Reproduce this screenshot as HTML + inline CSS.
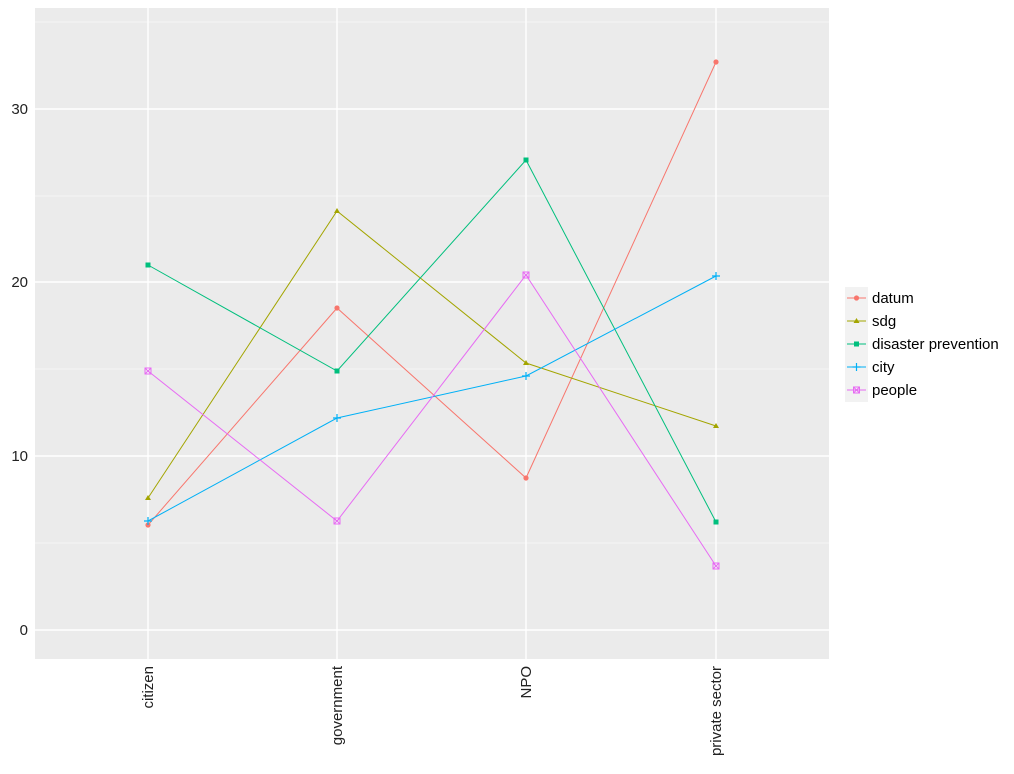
<!DOCTYPE html>
<html><head><style>body{margin:0;background:#fff}svg{display:block}text{font-family:"Liberation Sans",Arial,sans-serif;}</style></head><body>
<svg width="1014" height="774" xmlns="http://www.w3.org/2000/svg">
<rect x="35" y="8" width="794" height="651" fill="#EBEBEB"/>
<g stroke="#F7F7F7" stroke-width="0.8">
<line x1="35" x2="829" y1="543" y2="543"/><line x1="35" x2="829" y1="369" y2="369"/><line x1="35" x2="829" y1="196" y2="196"/><line x1="35" x2="829" y1="22" y2="22"/>
</g>
<g stroke="#FFFFFF" stroke-width="1.4">
<line x1="35" x2="829" y1="630" y2="630"/><line x1="35" x2="829" y1="456" y2="456"/><line x1="35" x2="829" y1="282" y2="282"/><line x1="35" x2="829" y1="109" y2="109"/>
<line x1="148" x2="148" y1="8" y2="659"/><line x1="337" x2="337" y1="8" y2="659"/><line x1="526" x2="526" y1="8" y2="659"/><line x1="716" x2="716" y1="8" y2="659"/>
</g>
<g fill="#222" font-size="15" text-anchor="end">
<text x="28" y="635">0</text><text x="28" y="461">10</text><text x="28" y="287">20</text><text x="28" y="114">30</text>
</g>
<g fill="#222" font-size="15" text-anchor="end">
<text transform="translate(153,666) rotate(-90)">citizen</text>
<text transform="translate(342,666) rotate(-90)">government</text>
<text transform="translate(531,666) rotate(-90)">NPO</text>
<text transform="translate(721,666) rotate(-90)">private sector</text>
</g>
<g fill="none" stroke-width="1">
<polyline stroke="#F8766D" points="148,525 337,308 526,478 716,62"/>
<polyline stroke="#A3A500" points="148,498 337,211 526,363 716,426"/>
<polyline stroke="#00BF7D" points="148,265 337,371 526,160 716,522"/>
<polyline stroke="#00B0F6" points="148,521 337,418 526,376 716,276"/>
<polyline stroke="#E76BF3" points="148,371 337,521 526,275 716,566"/>
</g>
<g fill="#F8766D"><circle cx="148" cy="525" r="2.6"/><circle cx="337" cy="308" r="2.6"/><circle cx="526" cy="478" r="2.6"/><circle cx="716" cy="62" r="2.6"/></g>
<g fill="#A3A500"><path d="M148,495l3,5h-6z"/><path d="M337,208l3,5h-6z"/><path d="M526,360l3,5h-6z"/><path d="M716,423l3,5h-6z"/></g>
<g fill="#00BF7D"><rect x="145.5" y="262.5" width="5" height="5"/><rect x="334.5" y="368.5" width="5" height="5"/><rect x="523.5" y="157.5" width="5" height="5"/><rect x="713.5" y="519.5" width="5" height="5"/></g>
<g stroke="#00B0F6" stroke-width="1.2"><path d="M144,521h8M148,517v8M333,418h8M337,414v8M522,376h8M526,372v8M712,276h8M716,272v8"/></g>
<g stroke="#E76BF3" fill="none" stroke-width="1"><rect x="145" y="368" width="6" height="6"/><rect x="334" y="518" width="6" height="6"/><rect x="523" y="272" width="6" height="6"/><rect x="713" y="563" width="6" height="6"/><path d="M145,368l6,6M151,368l-6,6M334,518l6,6M340,518l-6,6M523,272l6,6M529,272l-6,6M713,563l6,6M719,563l-6,6"/></g>
<rect x="845" y="287" width="23" height="115" fill="#F2F2F2"/>
<g stroke-width="1">
<line x1="847" x2="866" y1="298" y2="298" stroke="#F8766D"/><circle cx="856.5" cy="298" r="2.6" fill="#F8766D"/>
<line x1="847" x2="866" y1="321" y2="321" stroke="#A3A500"/><path d="M856.5,318l3,5h-6z" fill="#A3A500"/>
<line x1="847" x2="866" y1="344" y2="344" stroke="#00BF7D"/><rect x="854" y="341.5" width="5" height="5" fill="#00BF7D"/>
<line x1="847" x2="866" y1="367" y2="367" stroke="#00B0F6"/><path d="M852.5,367h8M856.5,363v8" stroke="#00B0F6" stroke-width="1.2"/>
<line x1="847" x2="866" y1="390" y2="390" stroke="#E76BF3"/><rect x="853.5" y="387" width="6" height="6" fill="none" stroke="#E76BF3"/><path d="M853.5,387l6,6M859.5,387l-6,6" stroke="#E76BF3"/>
</g>
<g fill="#000" font-size="15">
<text x="872" y="303">datum</text><text x="872" y="326">sdg</text><text x="872" y="349">disaster prevention</text><text x="872" y="372">city</text><text x="872" y="395">people</text>
</g>
</svg>
</body></html>
